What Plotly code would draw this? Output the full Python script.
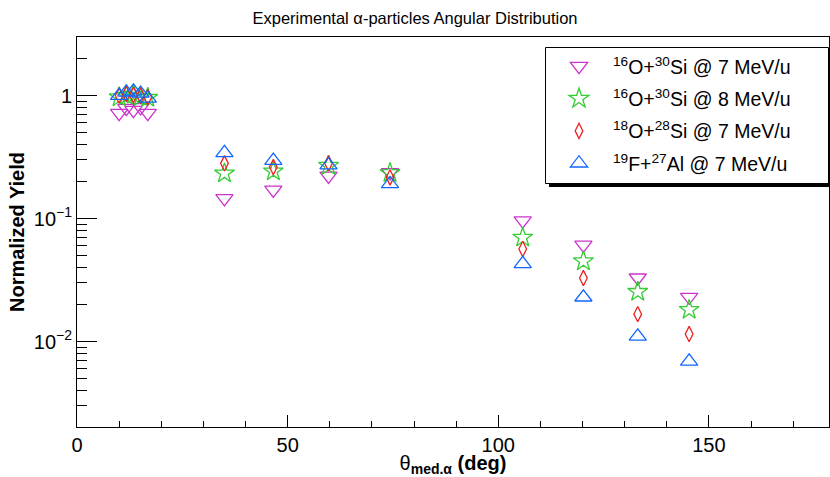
import plotly.graph_objects as go

# ---- data ----
angles = [10.0, 11.7, 13.4, 15.1, 16.8, 35.0, 46.6, 59.7, 74.3, 105.8, 120.2, 133.1, 145.3]

y_o16si30_7 = [0.72, 0.79, 0.76, 0.80, 0.72, 0.146, 0.171, 0.222, 0.237, 0.096, 0.061, 0.033, 0.023]
y_o16si30_8 = [0.97, 1.00, 1.02, 0.98, 0.96, 0.233, 0.242, 0.269, 0.235, 0.070, 0.045, 0.0254, 0.0181]
y_o18si28_7 = [1.00, 1.03, 1.01, 1.00, 0.97, 0.281, 0.262, 0.281, 0.216, 0.0565, 0.0328, 0.0167, 0.0115]
y_f19al27_7 = [1.00, 1.06, 1.08, 1.04, 0.95, 0.342, 0.296, 0.272, 0.191, 0.0428, 0.0229, 0.0110, 0.0069]

names = [
    "<sup>16</sup>O+<sup>30</sup>Si @ 7 MeV/u",
    "<sup>16</sup>O+<sup>30</sup>Si @ 8 MeV/u",
    "<sup>18</sup>O+<sup>28</sup>Si @ 7 MeV/u",
    "<sup>19</sup>F+<sup>27</sup>Al @ 7 MeV/u",
]
x_tickvals = [0, 50, 100, 150]
y_tickvals = [0.01, 0.1, 1]
y_ticktext = ["10<sup>−2</sup>", "10<sup>−1</sup>", "1"]

series = [y_o16si30_7, y_o16si30_8, y_o18si28_7, y_f19al27_7]
colors = ["#cc33cc", "#33cc33", "#ee2222", "#1166ff"]
symbols = ["triangle-down-open", "star-open", "diamond-tall-open", "triangle-up-open"]
sizes = [15, 15, 11, 15]

FONT = "Liberation Sans, Arial, Helvetica, sans-serif"

fig = go.Figure()
for i, (ys, nm) in enumerate(zip(series, names)):
    fig.add_trace(go.Scatter(
        x=angles, y=ys, mode="markers", name=nm, legendgroup=f"g{i}",
        marker=dict(symbol=symbols[i], size=sizes[i], color=colors[i],
                    line=dict(width=1.3, color=colors[i])),
    ))

minor_vals = [m * 10 ** e for e in (-3, -2, -1, 0) for m in range(2, 10)]

L, R, T, B = 77, 829, 37, 427
W, H = R - L, B - T

fig.update_layout(
    width=830, height=477,
    margin=dict(l=L, r=830 - R, t=T, b=477 - B, autoexpand=False),
    paper_bgcolor="white", plot_bgcolor="white",
    font=dict(family=FONT, size=20, color="black"),
    title=dict(text="Experimental α-particles Angular Distribution",
               x=0.5, xanchor="center", y=1 - 18 / 477, yanchor="middle",
               font=dict(size=16.5), automargin=False),
    showlegend=True,
    legend=dict(x=(545 - L) / W, y=(B - 47) / H, xanchor="left", yanchor="top",
                borderwidth=0, bgcolor="rgba(0,0,0,0)",
                font=dict(size=19.5), tracegroupgap=4, itemwidth=58),
    xaxis=dict(range=[0, 178.5], showline=True, linecolor="black", linewidth=1,
               mirror=True, ticks="inside", ticklen=12, tickcolor="black",
               tickvals=x_tickvals, showgrid=False, zeroline=False, automargin=False,
               minor=dict(ticks="inside", ticklen=6, dtick=10, tick0=0, tickcolor="black", showgrid=False),
               title=dict(text="θ<b><sub>med.α</sub> (deg)</b>", font=dict(size=20), standoff=0)),
    yaxis=dict(type="log", range=[-2.695, 0.476], showline=True, linecolor="black",
               linewidth=1, mirror=True, ticks="inside", ticklen=20, tickcolor="black",
               tickvals=y_tickvals, ticktext=y_ticktext, showgrid=False, zeroline=False,
               automargin=False,
               minor=dict(ticks="inside", ticklen=10, tickvals=minor_vals, tickcolor="black", showgrid=False),
               title=dict(text="<b>Normalized Yield</b>", font=dict(size=20), standoff=3)),
)

# legend shadow and box
fig.add_shape(type="rect", xref="paper", yref="paper",
              x0=(549 - L) / W, x1=(833 - L) / W,
              y0=(B - 187) / H, y1=(B - 51) / H,
              fillcolor="black", line=dict(width=0), layer="above")
fig.add_shape(type="rect", xref="paper", yref="paper",
              x0=(545.5 - L) / W, x1=(828.5 - L) / W,
              y0=(B - 183.5) / H, y1=(B - 47.5) / H,
              fillcolor="white", line=dict(width=1, color="black"), layer="above")

fig.write_html("out.html", config={"displayModeBar": False},
               post_script="document.body.style.margin='0';document.body.style.overflow='hidden';")
